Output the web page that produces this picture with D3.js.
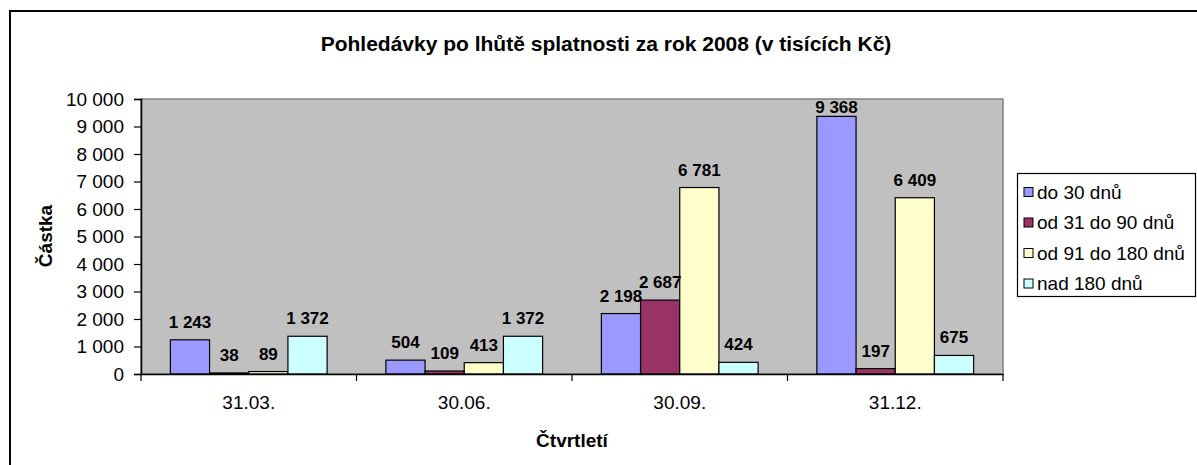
<!DOCTYPE html>
<html>
<head>
<meta charset="utf-8">
<script src="https://cdn.jsdelivr.net/npm/d3@7"></script>
<style>
  body { margin: 0; background: #fff; }
  svg text { font-family: "Liberation Sans", Arial, sans-serif; fill: #000; }
</style>
</head>
<body>
<div id="chart"></div>
<script>
// data
const quarters = ['31.03.', '30.06.', '30.09.', '31.12.'];
const seriesNames = ['do 30 dnů', 'od 31 do 90 dnů', 'od 91 do 180 dnů', 'nad 180 dnů'];
const do30 = [1243, 504, 2198, 9368];
const od31do90 = [38, 109, 2687, 197];
const od91do180 = [89, 413, 6781, 6409];
const nad180 = [1372, 1372, 424, 675];
const yTicks = [0, 1000, 2000, 3000, 4000, 5000, 6000, 7000, 8000, 9000, 10000];
const seriesColors = ['#9999ff', '#993366', '#ffffcc', '#ccffff'];

const width = 1197;
const height = 465;
const plot = { left: 141, right: 1003, top: 99, bottom: 374 };

const cz = d3.formatLocale({ decimal: ',', thousands: ' ', grouping: [3], currency: ['', ' Kč'] });
const fmt = cz.format(',d');

const allSeries = [do30, od31do90, od91do180, nad180];
const rows = [];
quarters.forEach((q, qi) => {
  seriesNames.forEach((s, si) => {
    rows.push({ quarter: q, series: s, si, value: allSeries[si][qi] });
  });
});

const svg = d3.select('#chart').append('svg')
  .attr('width', width)
  .attr('height', height);

// chart border (runs off the right and bottom edge like the source)
svg.append('rect')
  .attr('x', 10).attr('y', 11)
  .attr('width', 1200).attr('height', 470)
  .attr('fill', '#fff')
  .attr('stroke', '#000')
  .attr('stroke-width', 2);

const x0 = d3.scaleBand()
  .domain(quarters)
  .range([plot.left, plot.right]);

const x1 = d3.scaleBand()
  .domain(seriesNames)
  .range([0, x0.bandwidth()])
  .paddingOuter(0.75);

const y = d3.scaleLinear()
  .domain([0, 10000])
  .range([plot.bottom, plot.top]);

// plot area
svg.append('rect')
  .attr('x', plot.left).attr('y', plot.top)
  .attr('width', plot.right - plot.left)
  .attr('height', plot.bottom - plot.top)
  .attr('fill', '#c0c0c0')
  .attr('stroke', '#808080')
  .attr('stroke-width', 1.5);

// bars
svg.append('g')
  .selectAll('rect')
  .data(rows)
  .enter().append('rect')
    .attr('x', d => x0(d.quarter) + x1(d.series))
    .attr('y', d => y(d.value))
    .attr('width', x1.bandwidth())
    .attr('height', d => y(0) - y(d.value))
    .attr('fill', d => seriesColors[d.si])
    .attr('stroke', '#000')
    .attr('stroke-width', 1.2);

// data labels
svg.append('g')
  .selectAll('text')
  .data(rows)
  .enter().append('text')
    .attr('x', d => x0(d.quarter) + x1(d.series) + x1.bandwidth() / 2)
    .attr('y', d => Math.max(y(d.value) - 17.5, plot.top + 8.5))
    .attr('text-anchor', 'middle')
    .attr('dominant-baseline', 'central')
    .style('font-size', '17px')
    .style('font-weight', 'bold')
    .text(d => fmt(d.value));

// y axis
const yAxis = svg.append('g')
  .attr('transform', `translate(${plot.left},0)`)
  .call(d3.axisLeft(y).tickValues(yTicks).tickFormat(fmt).tickSize(7).tickPadding(10));
yAxis.select('.domain').attr('stroke', '#000').attr('stroke-width', 1.5);
yAxis.selectAll('.tick line').attr('stroke', '#000').attr('stroke-width', 1.2);
yAxis.selectAll('.tick text')
  .style('font-size', '19px')
  .style('font-family', '"Liberation Sans", Arial, sans-serif')
  .attr('fill', '#000');

// x axis
const xAxis = svg.append('g')
  .attr('transform', `translate(0,${plot.bottom})`)
  .call(d3.axisBottom(x0).tickSize(0).tickPadding(22));
xAxis.select('.domain').attr('stroke', '#000').attr('stroke-width', 1.5);
xAxis.selectAll('.tick text')
  .style('font-size', '19px')
  .style('font-family', '"Liberation Sans", Arial, sans-serif')
  .attr('fill', '#000');

// category boundary ticks
svg.append('g')
  .selectAll('line')
  .data(quarters.concat(['end']))
  .enter().append('line')
    .attr('x1', (d, i) => i < quarters.length ? x0(d) : plot.right)
    .attr('x2', (d, i) => i < quarters.length ? x0(d) : plot.right)
    .attr('y1', plot.bottom)
    .attr('y2', plot.bottom + 7)
    .attr('stroke', '#000')
    .attr('stroke-width', 1.2);

// titles
svg.append('text')
  .attr('x', 606).attr('y', 43)
  .attr('text-anchor', 'middle')
  .attr('dominant-baseline', 'central')
  .style('font-size', '21px')
  .style('font-weight', 'bold')
  .text('Pohledávky po lhůtě splatnosti za rok 2008 (v tisících Kč)');

svg.append('text')
  .attr('transform', 'translate(45,236) rotate(-90)')
  .attr('text-anchor', 'middle')
  .attr('dominant-baseline', 'central')
  .style('font-size', '19px')
  .style('font-weight', 'bold')
  .text('Částka');

svg.append('text')
  .attr('x', (plot.left + plot.right) / 2).attr('y', 440)
  .attr('text-anchor', 'middle')
  .attr('dominant-baseline', 'central')
  .style('font-size', '19px')
  .style('font-weight', 'bold')
  .text('Čtvrtletí');

// legend
const legend = svg.append('g');
legend.append('rect')
  .attr('x', 1017.5).attr('y', 173.5)
  .attr('width', 178).attr('height', 123)
  .attr('fill', '#fff')
  .attr('stroke', '#000')
  .attr('stroke-width', 1.2);

const legendItem = legend.selectAll('g.item')
  .data(seriesNames)
  .enter().append('g')
    .attr('class', 'item')
    .attr('transform', (d, i) => `translate(1024,${192 + i * 30.5})`);

legendItem.append('rect')
  .attr('x', 0).attr('y', -4.5)
  .attr('width', 9).attr('height', 9)
  .attr('fill', (d, i) => seriesColors[i])
  .attr('stroke', '#000')
  .attr('stroke-width', 1);

legendItem.append('text')
  .attr('x', 13).attr('y', 0)
  .attr('dominant-baseline', 'central')
  .style('font-size', '19px')
  .text(d => d);
</script>
</body>
</html>
